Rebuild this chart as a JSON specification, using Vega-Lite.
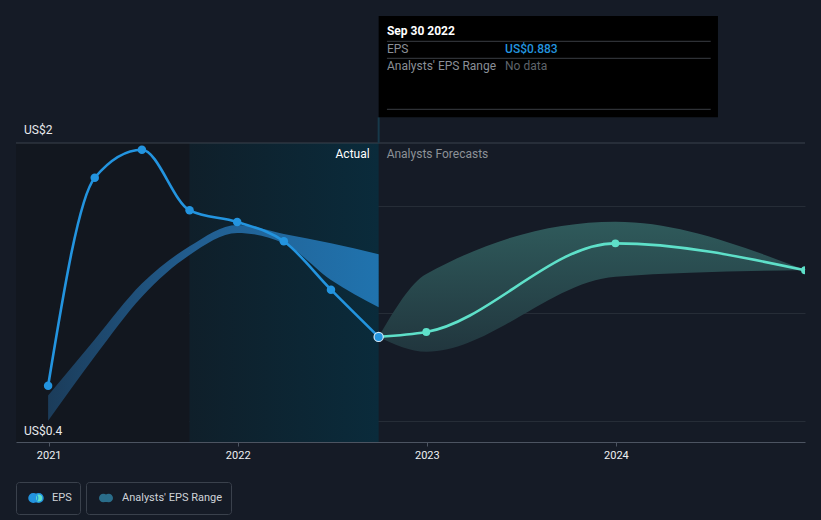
{
  "$schema": "https://vega.github.io/schema/vega-lite/v6.json",
  "width": 789,
  "height": 299,
  "autosize": {"type": "none"},
  "padding": {"left": 16, "top": 143, "right": 16, "bottom": 78},
  "background": "#151b26",
  "config": {"view": {"stroke": null}, "font": "Roboto"},
  "datasets": {
    "eps": [
      {"date": "2020-12-31", "eps": 0.602, "s": "EPS"},
      {"date": "2021-03-31", "eps": 1.8, "s": "EPS"},
      {"date": "2021-06-30", "eps": 1.961, "s": "EPS"},
      {"date": "2021-09-30", "eps": 1.612, "s": "EPS"},
      {"date": "2021-12-31", "eps": 1.545, "s": "EPS"},
      {"date": "2022-03-31", "eps": 1.434, "s": "EPS"},
      {"date": "2022-06-30", "eps": 1.155, "s": "EPS"},
      {"date": "2022-09-30", "eps": 0.883, "s": "EPS"},
      {"date": "2022-09-30", "eps": 0.883, "s": "EPS forecast"},
      {"date": "2022-12-31", "eps": 0.911, "s": "EPS forecast"},
      {"date": "2023-12-31", "eps": 1.422, "s": "EPS forecast"},
      {"date": "2024-12-31", "eps": 1.267, "s": "EPS forecast"}
    ],
    "pastRange": [
      {"date": "2020-12-31", "lo": 0.4, "hi": 0.545},
      {"date": "2021-03-31", "lo": 0.77, "hi": 0.868},
      {"date": "2021-06-30", "lo": 1.115, "hi": 1.19},
      {"date": "2021-09-30", "lo": 1.355, "hi": 1.405},
      {"date": "2021-12-31", "lo": 1.482, "hi": 1.528},
      {"date": "2022-03-31", "lo": 1.422, "hi": 1.476},
      {"date": "2022-06-30", "lo": 1.211, "hi": 1.422},
      {"date": "2022-09-30", "lo": 1.054, "hi": 1.359}
    ],
    "futureRange": [
      {"date": "2022-09-30", "lo": 0.883, "hi": 0.883},
      {"date": "2022-12-31", "lo": 0.798, "hi": 1.245},
      {"date": "2023-12-31", "lo": 1.23, "hi": 1.547},
      {"date": "2024-12-31", "lo": 1.268, "hi": 1.268}
    ]
  },
  "layer": [
    {
      "data": {"values": [{"from": "2020-10-30", "to": "2021-09-30"}]},
      "mark": {"type": "rect", "color": "#12171f"},
      "encoding": {
        "x": {
          "field": "from", "type": "temporal", "title": null,
          "scale": {"type": "utc", "nice": false, "domain": [{"year": 2020, "month": 10, "date": 30, "utc": true}, {"year": 2024, "month": 12, "date": 31, "utc": true}]},
          "axis": {
            "title": null, "grid": false, "format": "%Y", "formatType": "time",
            "values": [{"year": 2021, "month": 1, "date": 1, "utc": true}, {"year": 2022, "month": 1, "date": 1, "utc": true}, {"year": 2023, "month": 1, "date": 1, "utc": true}, {"year": 2024, "month": 1, "date": 1, "utc": true}],
            "domainColor": "#4c5461", "tickColor": "#4c5461", "tickSize": 4,
            "labelColor": "#eef0f2", "labelFontSize": 11, "labelPadding": 3, "labelFlush": false
          }
        },
        "x2": {"field": "to"},
        "y": {
          "datum": 2, "type": "quantitative",
          "scale": {"domain": [0.2776, 2], "nice": false, "zero": false},
          "axis": {"title": null, "values": [0.4, 1.018, 1.635], "grid": true, "gridColor": "#262d37", "labels": false, "ticks": false, "domain": false}
        },
        "y2": {"datum": 0.2776}
      }
    },
    {
      "data": {"values": [{"from": "2021-09-30", "to": "2022-09-30"}]},
      "mark": {"type": "rect", "fill": {"gradient": "linear", "x1": 0, "y1": 0, "x2": 1, "y2": 0, "stops": [{"offset": 0, "color": "#0f1f2a"}, {"offset": 1, "color": "#0a2b3b"}]}},
      "encoding": {
        "x": {"field": "from", "type": "temporal", "title": null},
        "x2": {"field": "to"},
        "y": {"datum": 2, "type": "quantitative"},
        "y2": {"datum": 0.2776}
      }
    },
    {
      "data": {"values": [{"v": 2}]},
      "mark": {"type": "rule", "color": "#3b424d", "strokeWidth": 1},
      "encoding": {"y": {"field": "v", "type": "quantitative", "title": null}}
    },
    {
      "data": {"values": [{"d": "2022-09-30", "a": 2, "b": 2.148}]},
      "mark": {"type": "rule", "color": "#17394a", "strokeWidth": 2},
      "encoding": {
        "x": {"field": "d", "type": "temporal", "title": null},
        "y": {"field": "a", "type": "quantitative", "title": null},
        "y2": {"field": "b"}
      }
    },
    {
      "data": {"name": "pastRange"},
      "mark": {"type": "area", "interpolate": "monotone", "fill": {"gradient": "linear", "x1": 0, "y1": 0, "x2": 1, "y2": 0, "stops": [{"offset": 0, "color": "#1b3c5a"}, {"offset": 0.45, "color": "#225e90"}, {"offset": 1, "color": "#2073ae"}]}},
      "encoding": {
        "x": {"field": "date", "type": "temporal", "title": null},
        "y": {"field": "lo", "type": "quantitative", "title": null},
        "y2": {"field": "hi"}
      }
    },
    {
      "data": {"name": "futureRange"},
      "mark": {"type": "area", "interpolate": "monotone", "fill": {"gradient": "linear", "x1": 0, "y1": 0, "x2": 0, "y2": 1, "stops": [{"offset": 0, "color": "#2f5a5b"}, {"offset": 1, "color": "#21363e"}]}},
      "encoding": {
        "x": {"field": "date", "type": "temporal", "title": null},
        "y": {"field": "lo", "type": "quantitative", "title": null},
        "y2": {"field": "hi"}
      }
    },
    {
      "data": {"name": "eps"},
      "mark": {"type": "line", "interpolate": "monotone", "strokeWidth": 2.6},
      "encoding": {
        "x": {"field": "date", "type": "temporal", "title": null},
        "y": {"field": "eps", "type": "quantitative", "title": null},
        "stroke": {
          "field": "s", "type": "nominal",
          "scale": {"domain": ["EPS", "EPS forecast"], "range": ["#2394df", "#5ee0c9"]},
          "legend": {
            "values": ["EPS"], "title": null, "orient": "none", "legendX": 0, "legendY": 339,
            "strokeColor": "#3a414c", "cornerRadius": 3, "padding": 8,
            "labelColor": "#cfd3d8", "labelFontSize": 11, "labelFont": "Roboto", "labelOffset": 8,
            "labelExpr": "datum.label + '\u2002'",
            "symbolType": "M-1,0a0.62,0.62 0 1,0 1.24,0a0.62,0.62 0 1,0 -1.24,0Z M-0.24,0a0.62,0.62 0 1,0 1.24,0a0.62,0.62 0 1,0 -1.24,0Z",
            "symbolSize": 196, "symbolOffset": 4,
            "encode": {"symbols": {"update": {
              "fill": {"value": {"gradient": "linear", "x1": 0, "y1": 0, "x2": 1, "y2": 0, "stops": [{"offset": 0, "color": "#2394df"}, {"offset": 0.5, "color": "#2394df"}, {"offset": 0.5, "color": "#5ee0c9"}, {"offset": 1, "color": "#5ee0c9"}]}},
              "stroke": {"value": "transparent"}, "opacity": {"value": 1}
            }}}
          }
        }
      }
    },
    {
      "data": {"name": "eps"},
      "transform": [{"filter": "datum.s == 'EPS'"}],
      "mark": {"type": "point", "shape": "circle", "filled": true, "color": "#2394df", "size": 72, "opacity": 1},
      "encoding": {
        "x": {"field": "date", "type": "temporal", "title": null},
        "y": {"field": "eps", "type": "quantitative", "title": null}
      }
    },
    {
      "data": {"name": "eps"},
      "transform": [{"filter": "datum.s == 'EPS forecast'"}],
      "mark": {"type": "point", "shape": "circle", "filled": true, "color": "#5ee0c9", "size": 62, "opacity": 1, "clip": true},
      "encoding": {
        "x": {"field": "date", "type": "temporal", "title": null},
        "y": {"field": "eps", "type": "quantitative", "title": null}
      }
    },
    {
      "data": {"name": "eps"},
      "transform": [{"filter": "datum.s == 'EPS' && utcyear(datum.date) == 2022 && utcmonth(datum.date) == 8"}],
      "mark": {"type": "point", "shape": "circle", "filled": true, "fill": "#2394df", "stroke": "#cfe6f7", "strokeWidth": 1.2, "size": 85, "opacity": 1},
      "encoding": {
        "x": {"field": "date", "type": "temporal", "title": null},
        "y": {"field": "eps", "type": "quantitative", "title": null}
      }
    },
    {
      "data": {"values": [{"k": "Analysts' EPS Range"}]},
      "mark": {"type": "point", "filled": true, "opacity": 0},
      "encoding": {
        "fill": {
          "field": "k", "type": "nominal",
          "scale": {"range": ["#2a6d8a"]},
          "legend": {
            "title": null, "orient": "none", "legendX": 70, "legendY": 339,
            "strokeColor": "#3a414c", "cornerRadius": 3, "padding": 8,
            "labelColor": "#cfd3d8", "labelFontSize": 11, "labelFont": "Roboto", "labelOffset": 8,
            "labelExpr": "datum.label + '\u2002'",
            "symbolType": "M-1,0a0.62,0.62 0 1,0 1.24,0a0.62,0.62 0 1,0 -1.24,0Z M-0.24,0a0.62,0.62 0 1,0 1.24,0a0.62,0.62 0 1,0 -1.24,0Z",
            "symbolSize": 196, "symbolOffset": 4,
            "encode": {"symbols": {"update": {
              "fill": {"value": {"gradient": "linear", "x1": 0, "y1": 0, "x2": 1, "y2": 0, "stops": [{"offset": 0, "color": "#1d5a86"}, {"offset": 0.5, "color": "#1d5a86"}, {"offset": 0.5, "color": "#3e8078"}, {"offset": 1, "color": "#3e8078"}]}},
              "stroke": {"value": "transparent"}, "opacity": {"value": 1}
            }}}
          }
        }
      }
    },
    {
      "data": {"values": [{"t": "US$2", "d": "2020-10-30", "v": 2}]},
      "mark": {"type": "text", "align": "left", "baseline": "middle", "dx": 8, "dy": -13, "fontSize": 12, "color": "#e8eaed"},
      "encoding": {
        "x": {"field": "d", "type": "temporal", "title": null},
        "y": {"field": "v", "type": "quantitative", "title": null},
        "text": {"field": "t"}
      }
    },
    {
      "data": {"values": [{"t": "US$0.4", "d": "2020-10-30", "v": 0.4}]},
      "mark": {"type": "text", "align": "left", "baseline": "middle", "dx": 8, "dy": 10, "fontSize": 12, "color": "#e8eaed"},
      "encoding": {
        "x": {"field": "d", "type": "temporal", "title": null},
        "y": {"field": "v", "type": "quantitative", "title": null},
        "text": {"field": "t"}
      }
    },
    {
      "data": {"values": [{"t": "Actual", "d": "2022-09-30", "v": 2}]},
      "mark": {"type": "text", "align": "right", "baseline": "middle", "dx": -9, "dy": 11, "fontSize": 12, "color": "#ffffff"},
      "encoding": {
        "x": {"field": "d", "type": "temporal", "title": null},
        "y": {"field": "v", "type": "quantitative", "title": null},
        "text": {"field": "t"}
      }
    },
    {
      "data": {"values": [{"t": "Analysts Forecasts", "d": "2022-09-30", "v": 2}]},
      "mark": {"type": "text", "align": "left", "baseline": "middle", "dx": 8, "dy": 11, "fontSize": 12, "color": "#8c9197"},
      "encoding": {
        "x": {"field": "d", "type": "temporal", "title": null},
        "y": {"field": "v", "type": "quantitative", "title": null},
        "text": {"field": "t"}
      }
    },
    {
      "data": {"values": [{"a": "2022-09-30", "b": "2024-07-16", "top": 2.7316, "bottom": 2.148}]},
      "mark": {"type": "rect", "color": "#000000"},
      "encoding": {
        "x": {"field": "a", "type": "temporal", "title": null},
        "x2": {"field": "b"},
        "y": {"field": "top", "type": "quantitative", "title": null},
        "y2": {"field": "bottom"}
      }
    },
    {
      "data": {"values": [
        {"a": "2022-10-16", "b": "2024-07-02", "v": 2.5858},
        {"a": "2022-10-16", "b": "2024-07-02", "v": 2.4879},
        {"a": "2022-10-16", "b": "2024-07-02", "v": 2.1941}
      ]},
      "mark": {"type": "rule", "color": "#3a3e44", "strokeWidth": 1},
      "encoding": {
        "x": {"field": "a", "type": "temporal", "title": null},
        "x2": {"field": "b"},
        "y": {"field": "v", "type": "quantitative", "title": null}
      }
    },
    {
      "data": {"values": [{"t": "Sep 30 2022", "d": "2022-10-16", "v": 2.6451}]},
      "mark": {"type": "text", "align": "left", "baseline": "middle", "fontSize": 12, "fontWeight": "bold", "color": "#ffffff"},
      "encoding": {
        "x": {"field": "d", "type": "temporal", "title": null},
        "y": {"field": "v", "type": "quantitative", "title": null},
        "text": {"field": "t"}
      }
    },
    {
      "data": {"values": [{"t": "EPS", "d": "2022-10-16", "v": 2.5397}, {"t": "Analysts' EPS Range", "d": "2022-10-16", "v": 2.4435}]},
      "mark": {"type": "text", "align": "left", "baseline": "middle", "fontSize": 12, "color": "#8a8f97"},
      "encoding": {
        "x": {"field": "d", "type": "temporal", "title": null},
        "y": {"field": "v", "type": "quantitative", "title": null},
        "text": {"field": "t"}
      }
    },
    {
      "data": {"values": [{"t": "US$0.883", "d": "2023-06-01", "v": 2.5397}]},
      "mark": {"type": "text", "align": "left", "baseline": "middle", "fontSize": 12, "fontWeight": 500, "color": "#2394df"},
      "encoding": {
        "x": {"field": "d", "type": "temporal", "title": null},
        "y": {"field": "v", "type": "quantitative", "title": null},
        "text": {"field": "t"}
      }
    },
    {
      "data": {"values": [{"t": "No data", "d": "2023-06-01", "v": 2.4435}]},
      "mark": {"type": "text", "align": "left", "baseline": "middle", "fontSize": 12, "color": "#5f646b"},
      "encoding": {
        "x": {"field": "d", "type": "temporal", "title": null},
        "y": {"field": "v", "type": "quantitative", "title": null},
        "text": {"field": "t"}
      }
    }
  ]
}
